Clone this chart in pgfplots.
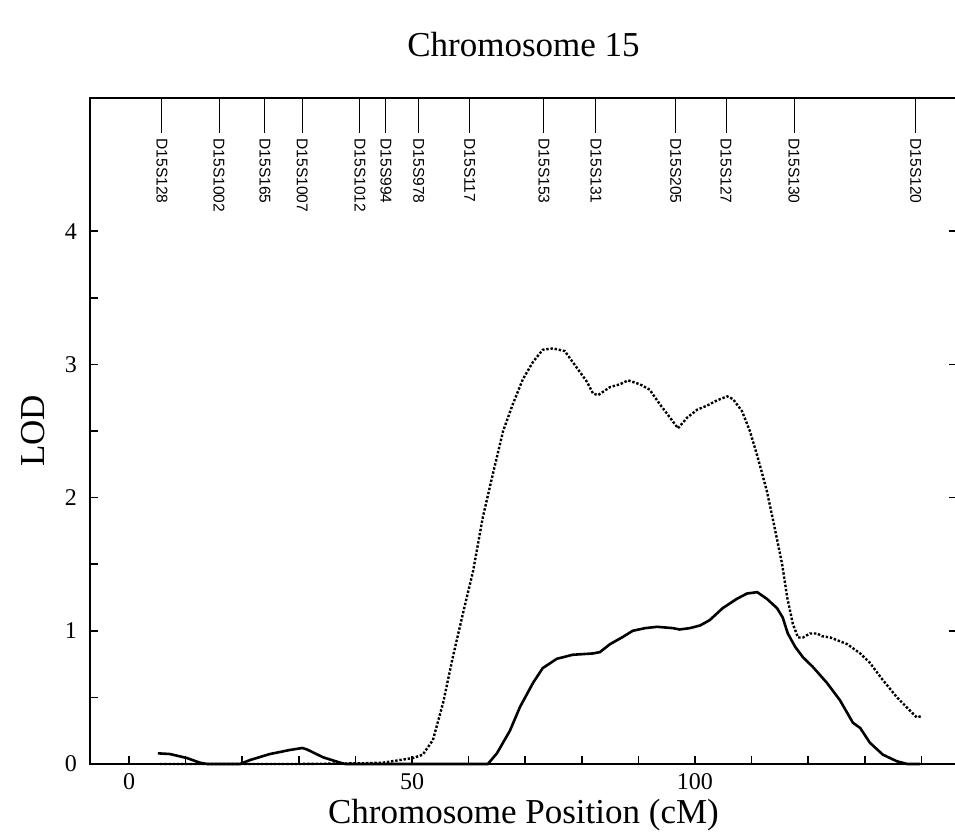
\documentclass[border=0pt]{standalone}
\usepackage{pgfplots}
\pgfplotsset{compat=1.18}
\usepackage{fontspec}
\setmainfont{Liberation Serif}
\newfontfamily\markerfont{Liberation Sans}

\begin{document}
\begin{tikzpicture}
\useasboundingbox (-45pt,-35.5pt) rectangle (432.5pt,382pt);
\begin{axis}[
  scale only axis,
  width=433.5pt, height=333pt,
  xmin=-6.9, xmax=146.3,
  ymin=0, ymax=5,
  axis line style={line width=1pt},
  xtick={0,50,100},
  minor xtick={10,20,30,40,60,70,80,90,110,120,130,140},
  ytick={0,1,2,3,4},
  minor ytick={0.5,1.5,2.5,3.5},
  xtick pos=left, ytick pos=left,
  tick align=inside,
  major tick length=4pt, minor tick length=4pt,
  every tick/.style={line width=0.8pt, black},
  minor tick style={line width=0.8pt, black},
  /pgf/number format/assume math mode=true,
  tick label style={font=\fontsize{12}{14}\selectfont},
  yticklabel style={xshift=-3pt},
  xticklabel style={yshift=-1pt},
  title={Chromosome 15},
  title style={at={(axis description cs:0.5,1.0616)}, anchor=center, font=\fontsize{17.5}{20}\selectfont},
  xlabel={Chromosome Position (cM)},
  xlabel style={at={(axis description cs:0.5,-0.0766)}, anchor=center, font=\fontsize{17.5}{20}\selectfont},
  ylabel={LOD},
  ylabel style={at={(axis description cs:-0.0657,0.5)}, anchor=center, font=\fontsize{17.5}{20}\selectfont},
  clip=false,
]
% dotted curve
\addplot[black, line width=1.2pt, dash pattern=on 1.2pt off 0.9pt] coordinates {
(5.5,0) (20,0) (30,0) (40.8,0.005) (44.9,0.01) (47.9,0.03) (50.2,0.045) (51.9,0.07)
(53.7,0.18) (55.5,0.46) (57.2,0.80) (59.0,1.13) (60.8,1.45) (62.5,1.85) (64.3,2.18)
(66.1,2.50) (67.8,2.70) (69.6,2.89) (71.4,3.02) (73.1,3.11) (74.9,3.12) (77.0,3.10)
(79.2,2.97) (80.9,2.87) (82.0,2.78) (82.9,2.77) (85.0,2.83) (86.7,2.85) (88.2,2.88)
(90.3,2.85) (92.0,2.81) (93.8,2.70) (95.6,2.60) (97.0,2.52) (98.6,2.60) (100.4,2.66)
(102.1,2.69) (103.9,2.73) (105.7,2.76) (106.7,2.74) (108.3,2.65) (109.7,2.50) (111.1,2.30)
(112.7,2.05) (114.1,1.77) (115.4,1.50) (116.3,1.25) (117.3,1.05) (118.2,0.95) (119.1,0.95)
(120.3,0.98) (121.6,0.98) (122.4,0.96) (123.9,0.95) (126.9,0.90) (129.2,0.83) (130.9,0.76)
(133.2,0.63) (135.7,0.50) (138.0,0.40) (139.2,0.35) (140.1,0.36)
};
% solid curve
\addplot[black, line width=1.3pt] coordinates {
(5.1,0.08) (7.2,0.075) (10.2,0.045) (12.5,0.01) (13.8,0) (19.6,0) (21.4,0.03) (24.9,0.075)
(28.4,0.105) (30.6,0.12) (31.4,0.11) (34.3,0.05) (37.3,0.01) (38.2,0) (63.4,0)
(65.0,0.08) (67.3,0.25) (69.1,0.43) (71.4,0.61) (73.1,0.72) (75.6,0.79) (78.4,0.82)
(82.0,0.83) (83.2,0.84) (85.0,0.90) (87.1,0.95) (89.0,1.00) (91.2,1.02) (93.3,1.03)
(96.1,1.02) (97.3,1.01) (99.1,1.02) (100.9,1.04) (102.6,1.08) (104.9,1.17) (107.4,1.24)
(109.2,1.28) (111.0,1.29) (112.7,1.24) (114.5,1.17) (115.5,1.10) (116.4,0.98) (117.7,0.88)
(119.1,0.80) (120.8,0.73) (123.3,0.61) (125.6,0.48) (127.9,0.31) (129.2,0.27) (130.9,0.16)
(133.2,0.07) (135.7,0.02) (137.5,0) (139.8,0)
};
% right-side ticks
\draw[line width=0.8pt] (axis cs:146.3,1) -- ++(-4pt,0pt);
\draw[line width=0.8pt] (axis cs:146.3,2) -- ++(-4pt,0pt);
\draw[line width=0.8pt] (axis cs:146.3,3) -- ++(-4pt,0pt);
\draw[line width=0.8pt] (axis cs:146.3,4) -- ++(-4pt,0pt);
% marker ticks and labels
\tikzset{mk/.style={anchor=west, rotate=-90, inner sep=0pt, font=\markerfont\fontsize{7.8}{9}\selectfont}}
\draw[line width=0.5pt] (axis cs:5.8,5) -- ++(0pt,-17.5pt);   \path (axis cs:5.8,5) ++(0pt,-20pt) node[mk] {D15S128};
\draw[line width=0.5pt] (axis cs:15.9,5) -- ++(0pt,-17.5pt);  \path (axis cs:15.9,5) ++(0pt,-20pt) node[mk] {D15S1002};
\draw[line width=0.5pt] (axis cs:24.0,5) -- ++(0pt,-17.5pt);  \path (axis cs:24.0,5) ++(0pt,-20pt) node[mk] {D15S165};
\draw[line width=0.5pt] (axis cs:30.6,5) -- ++(0pt,-17.5pt);  \path (axis cs:30.6,5) ++(0pt,-20pt) node[mk] {D15S1007};
\draw[line width=0.5pt] (axis cs:40.8,5) -- ++(0pt,-17.5pt);  \path (axis cs:40.8,5) ++(0pt,-20pt) node[mk] {D15S1012};
\draw[line width=0.5pt] (axis cs:45.4,5) -- ++(0pt,-17.5pt);  \path (axis cs:45.4,5) ++(0pt,-20pt) node[mk] {D15S994};
\draw[line width=0.5pt] (axis cs:51.2,5) -- ++(0pt,-17.5pt);  \path (axis cs:51.2,5) ++(0pt,-20pt) node[mk] {D15S978};
\draw[line width=0.5pt] (axis cs:60.2,5) -- ++(0pt,-17.5pt);  \path (axis cs:60.2,5) ++(0pt,-20pt) node[mk] {D15S117};
\draw[line width=0.5pt] (axis cs:73.3,5) -- ++(0pt,-17.5pt);  \path (axis cs:73.3,5) ++(0pt,-20pt) node[mk] {D15S153};
\draw[line width=0.5pt] (axis cs:82.5,5) -- ++(0pt,-17.5pt);  \path (axis cs:82.5,5) ++(0pt,-20pt) node[mk] {D15S131};
\draw[line width=0.5pt] (axis cs:96.6,5) -- ++(0pt,-17.5pt);  \path (axis cs:96.6,5) ++(0pt,-20pt) node[mk] {D15S205};
\draw[line width=0.5pt] (axis cs:105.5,5) -- ++(0pt,-17.5pt); \path (axis cs:105.5,5) ++(0pt,-20pt) node[mk] {D15S127};
\draw[line width=0.5pt] (axis cs:117.5,5) -- ++(0pt,-17.5pt); \path (axis cs:117.5,5) ++(0pt,-20pt) node[mk] {D15S130};
\draw[line width=0.5pt] (axis cs:139.0,5) -- ++(0pt,-17.5pt); \path (axis cs:139.0,5) ++(0pt,-20pt) node[mk] {D15S120};
\end{axis}
\end{tikzpicture}
\end{document}
